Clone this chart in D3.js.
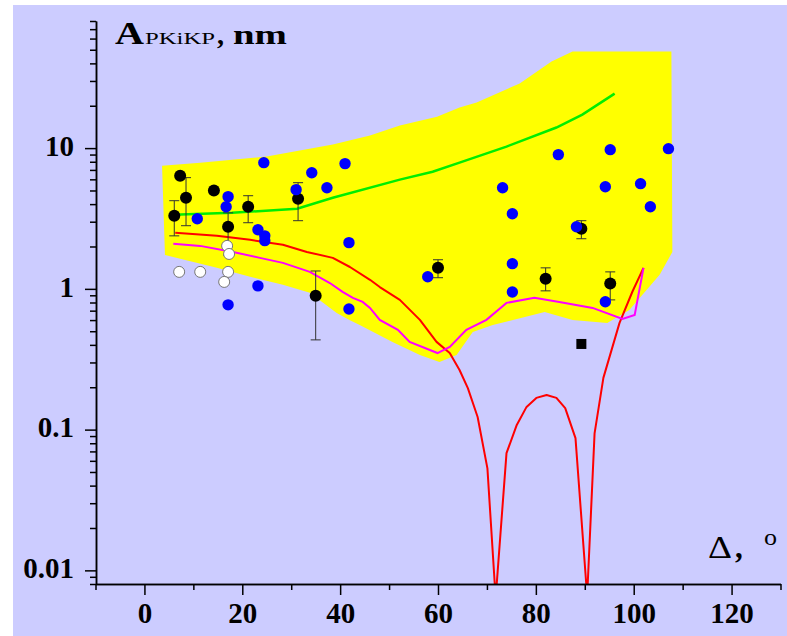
<!DOCTYPE html>
<html>
<head>
<meta charset="utf-8">
<script src="https://cdn.jsdelivr.net/npm/d3@7"></script>
<style>
body { margin: 0; background: #fff; }
svg { display: block; }
</style>
</head>
<body>
<div></div>
<script>
const width = 787;
const height = 636;

// yellow band: upper edge left->right, then lower edge right->left
const bandUpper = [[3.6, 7.5], [11.4, 7.88], [25.0, 8.7], [38.5, 10.6], [46.1, 12.3], [52.2, 14.5],
    [59.8, 16.7], [64.4, 19.4], [67.9, 21.1], [76.7, 28.8], [83.2, 41.3], [87.5, 48.6], [107.7, 48.6], [107.9, 1.83]];
const bandLower = [[105.3, 1.26], [99.1, 0.709], [94.6, 0.573], [87.5, 0.601], [81.8, 0.686], [71.2, 0.554],
    [67.1, 0.494], [63.8, 0.339], [60.3, 0.302], [56.3, 0.339], [50.7, 0.42], [44.0, 0.554], [41.9, 0.601],
    [39.3, 0.675], [33.8, 0.937], [28.3, 1.07], [21.6, 1.22], [14.8, 1.41], [4.2, 1.74]];

const greenLine = [[5.9, 3.36], [17.9, 3.47], [31.2, 3.71], [38.5, 4.44], [52.2, 5.97], [58.9, 6.8],
    [64.4, 7.88], [74.0, 10.25], [84.2, 14.0], [89.5, 17.3], [96.1, 24.4]];

const redLine = [[6.3, 2.5], [14.8, 2.38], [21.6, 2.23], [28.3, 2.06], [33.2, 1.83], [38.5, 1.66], [42.0, 1.43],
    [46.1, 1.16], [48.1, 1.03], [52.2, 0.835], [56.3, 0.602], [59.7, 0.42], [62.4, 0.35], [64.4, 0.265],
    [66.1, 0.197], [68.1, 0.123], [70.1, 0.053], [71.6, 0.008], [72.0, 0.008], [74.0, 0.068], [76.1, 0.108],
    [78.1, 0.145], [80.1, 0.168], [82.2, 0.176], [84.2, 0.168], [86.0, 0.142], [88.1, 0.087], [90.3, 0.008],
    [90.6, 0.008], [92.0, 0.094], [93.8, 0.233], [97.1, 0.573], [99.7, 0.95], [102.0, 1.41]];

const magentaLine = [[5.9, 2.09], [11.4, 2.02], [18.1, 1.83], [23.6, 1.66], [28.3, 1.53], [33.8, 1.32],
    [37.9, 1.1], [40.5, 0.953], [42.6, 0.863], [44.6, 0.808], [46.1, 0.732], [48.1, 0.602], [51.8, 0.511],
    [54.2, 0.42], [59.9, 0.35], [62.4, 0.387], [65.8, 0.511], [69.9, 0.602], [74.0, 0.795], [79.7, 0.863],
    [84.8, 0.808], [91.6, 0.732], [97.7, 0.612], [100.2, 0.653], [102.0, 1.41]];

// black points: [delta, amplitude, low, high] (null = no error bar)
const blackPts = [[6.1, 3.31, 2.38, 4.23], [7.3, 6.37, null, null], [8.5, 4.44, 2.81, 6.17], [14.2, 4.99, null, null],
    [17.1, 2.76, 1.74, 3.47], [21.2, 3.83, 2.95, 4.59], [31.4, 4.37, 3.05, 5.68], [35.0, 0.892, 0.434, 1.34],
    [60.0, 1.41, 1.2, 1.61], [82.0, 1.18, 0.968, 1.41], [89.3, 2.67, 2.27, 3.05], [95.2, 1.09, 0.835, 1.32]];

const bluePts = [[24.4, 7.88], [34.2, 6.69], [37.3, 5.23], [41.0, 7.76], [31.0, 5.07], [17.1, 4.52], [16.7, 3.83],
    [10.8, 3.15], [23.2, 2.63], [24.6, 2.38], [24.6, 2.2], [41.8, 2.13], [23.2, 1.05], [17.1, 0.77], [41.8, 0.72],
    [84.6, 8.99], [95.2, 9.75], [107.1, 9.91], [73.2, 5.23], [94.2, 5.32], [101.4, 5.59], [103.4, 3.83],
    [75.2, 3.42], [88.3, 2.76], [75.2, 1.51], [57.9, 1.22], [75.2, 0.95], [94.2, 0.81]];

const whitePts = [[7.1, 1.32], [11.4, 1.32], [17.1, 1.32], [16.3, 1.12], [16.9, 2.02], [17.3, 1.77]];

const squarePts = [[89.3, 0.406]];

const xMajorTicks = [0, 20, 40, 60, 80, 100, 120];
const yMajorTicks = [0.01, 0.1, 1, 10];
const yTickLabels = ['0.01', '0.1', '1', '10'];

const svg = d3.select('div').append('svg').attr('width', width).attr('height', height);

svg.append('rect').attr('x', 13).attr('y', 5).attr('width', width - 13).attr('height', height - 5).attr('fill', '#ccccff');

const x = d3.scaleLinear().domain([-10, 130]).range([95.5, 780.5]);
const y = d3.scaleLog().domain([0.008, 80]).range([584, 21]);

svg.append('clipPath').attr('id', 'plot')
    .append('rect').attr('x', 96).attr('y', 21).attr('width', 685).attr('height', 563);

const g = svg.append('g').attr('clip-path', 'url(#plot)');
const line = d3.line().x(d => x(d[0])).y(d => y(d[1]));

g.append('path')
    .attr('d', line(bandUpper.concat(bandLower)) + 'Z')
    .attr('fill', '#ffff00');

g.append('path').attr('d', line(greenLine)).attr('fill', 'none').attr('stroke', '#00ee00').attr('stroke-width', 2.5);
g.append('path').attr('d', line(redLine)).attr('fill', 'none').attr('stroke', '#ff0000').attr('stroke-width', 2).attr('stroke-linejoin', 'round');
g.append('path').attr('d', line(magentaLine)).attr('fill', 'none').attr('stroke', '#ff00ff').attr('stroke-width', 2);

// error bars + black dots
const bars = g.append('g').attr('stroke', '#333').attr('stroke-width', 1);
blackPts.filter(d => d[2] !== null).forEach(d => {
    bars.append('line').attr('x1', x(d[0])).attr('x2', x(d[0])).attr('y1', y(d[2])).attr('y2', y(d[3]));
    bars.append('line').attr('x1', x(d[0]) - 5).attr('x2', x(d[0]) + 5).attr('y1', y(d[2])).attr('y2', y(d[2]));
    bars.append('line').attr('x1', x(d[0]) - 5).attr('x2', x(d[0]) + 5).attr('y1', y(d[3])).attr('y2', y(d[3]));
});

g.selectAll('.black').data(blackPts).enter().append('circle')
    .attr('cx', d => x(d[0])).attr('cy', d => y(d[1])).attr('r', 6).attr('fill', '#000');

g.selectAll('.sq').data(squarePts).enter().append('rect')
    .attr('x', d => x(d[0]) - 5).attr('y', d => y(d[1]) - 5).attr('width', 10).attr('height', 10).attr('fill', '#000');

g.selectAll('.blue').data(bluePts).enter().append('circle')
    .attr('cx', d => x(d[0])).attr('cy', d => y(d[1])).attr('r', 5.7).attr('fill', '#0000ff');

g.selectAll('.white').data(whitePts).enter().append('circle')
    .attr('cx', d => x(d[0])).attr('cy', d => y(d[1])).attr('r', 5.5)
    .attr('fill', '#fff').attr('stroke', '#777').attr('stroke-width', 1);

// axes
const font = '"Liberation Serif", "Times New Roman", serif';

const yMinor = svg.append('g').attr('transform', 'translate(96,0)')
    .call(d3.axisLeft(y).tickValues(y.ticks().filter(v => !yMajorTicks.includes(v))).tickSize(6).tickSizeOuter(0).tickFormat(''));
const yMajor = svg.append('g').attr('transform', 'translate(96,0)')
    .call(d3.axisLeft(y).tickValues(yMajorTicks).tickSize(11).tickSizeOuter(0).tickPadding(11)
        .tickFormat((d, i) => yTickLabels[i]));

const xMinor = svg.append('g').attr('transform', 'translate(0,584)')
    .call(d3.axisBottom(x).tickValues(d3.range(-10, 131, 10).filter(v => !xMajorTicks.includes(v))).tickSize(6).tickSizeOuter(0).tickFormat(''));
const xMajor = svg.append('g').attr('transform', 'translate(0,584)')
    .call(d3.axisBottom(x).tickValues(xMajorTicks).tickSize(11).tickSizeOuter(0).tickPadding(7));

[yMinor, yMajor, xMinor, xMajor].forEach(a => {
    a.selectAll('path, line').attr('stroke', '#000').attr('stroke-width', 1.5);
    a.selectAll('text').attr('fill', '#000').style('font-family', font).style('font-size', '29px').style('font-weight', 'bold');
});
yMajor.selectAll('text').attr('dy', '0.25em');

// titles
const title = svg.append('g').style('font-family', font).attr('fill', '#000');
title.append('text').attr('x', 115).attr('y', 44).text('A')
    .style('font-size', '31px').style('font-weight', 'bold').attr('textLength', 29).attr('lengthAdjust', 'spacingAndGlyphs');
title.append('text').attr('x', 145).attr('y', 44).text('PKiKP')
    .style('font-size', '16px').attr('textLength', 70).attr('lengthAdjust', 'spacingAndGlyphs');
title.append('text').attr('x', 217).attr('y', 44).text(',')
    .style('font-size', '28px').style('font-weight', 'bold');
title.append('text').attr('x', 233).attr('y', 44).text('nm')
    .style('font-size', '28px').style('font-weight', 'bold').attr('textLength', 54).attr('lengthAdjust', 'spacingAndGlyphs');

title.append('text').attr('x', 708).attr('y', 558).text('Δ')
    .style('font-size', '32px').attr('textLength', 24).attr('lengthAdjust', 'spacingAndGlyphs');
title.append('text').attr('x', 735).attr('y', 558).text(',')
    .style('font-size', '31px').style('font-weight', 'bold');
title.append('text').attr('x', 764).attr('y', 545).text('o')
    .style('font-size', '24px').attr('textLength', 13).attr('lengthAdjust', 'spacingAndGlyphs');
</script>
</body>
</html>
